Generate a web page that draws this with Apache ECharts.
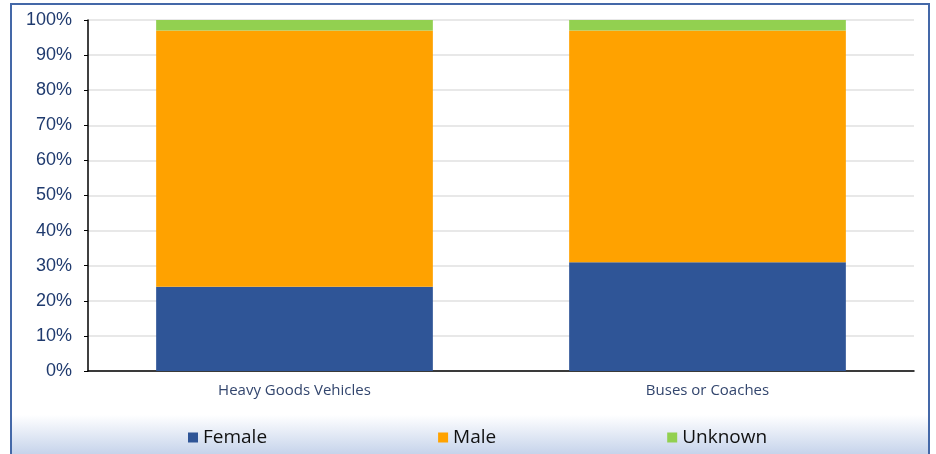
<!DOCTYPE html>
<html>
    <head>
        <meta charset="UTF-8">
        <title></title>
        <script src="https://cdn.jsdelivr.net/npm/echarts@6/dist/echarts.min.js"></script>
        <style>
            body { margin: 0; }
            #frame {
                position: absolute; left: 10px; top: 3px; width: 920px; height: 460px;
                border: 2px solid #4468a8; box-sizing: border-box;
                background: linear-gradient(to bottom, #ffffff 0px, #ffffff 410px, #c3d1ea 451px);
            }
            #main { position: absolute; left: 0; top: 0; width: 936px; height: 454px; }
        </style>
    </head>
    <body>
        <div id="frame"></div>
        <div id="main"></div>
        <script>
            // 数据
            var categories = ['Heavy Goods Vehicles', 'Buses or Coaches'];
            var female = [24, 31];
            var male = [73, 66];
            var unknown = [3, 3];

            var chart = echarts.init(document.getElementById('main'));
            chart.setOption({
                backgroundColor: 'transparent',
                animation: false,
                color: ['#2f5597', '#ffa200', '#92d050'],
                legend: {
                    bottom: 2,
                    left: 183,
                    itemWidth: 10,
                    itemHeight: 10,
                    itemGap: 171,
                    icon: 'rect',
                    textStyle: { fontFamily: 'Open Sans', fontSize: 19, color: '#111' },
                    data: ['Female', 'Male', 'Unknown']
                },
                grid: { left: 88, right: 22, top: 20, bottom: 83 },
                xAxis: {
                    type: 'category',
                    data: categories,
                    axisLine: { lineStyle: { color: '#000', width: 1.5 } },
                    axisTick: { length: 4, lineStyle: { color: '#000' } },
                    axisLabel: { margin: 12, fontFamily: 'Open Sans', fontSize: 15, color: '#33466e' }
                },
                yAxis: {
                    type: 'value',
                    min: 0,
                    max: 100,
                    interval: 10,
                    axisLine: { show: true, lineStyle: { color: '#000', width: 1.5 } },
                    axisTick: { show: true, length: 4, lineStyle: { color: '#000' } },
                    splitLine: { lineStyle: { color: '#e0e0e0', width: 1.5 } },
                    axisLabel: { formatter: '{value}%', margin: 16, fontFamily: 'Liberation Sans', fontSize: 18, color: '#1f3a6e' }
                },
                series: [
                    { name: 'Female', type: 'bar', stack: 'total', barWidth: '67%', data: female },
                    { name: 'Male', type: 'bar', stack: 'total', data: male },
                    { name: 'Unknown', type: 'bar', stack: 'total', data: unknown }
                ]
            });
        </script>
    </body>
</html>
